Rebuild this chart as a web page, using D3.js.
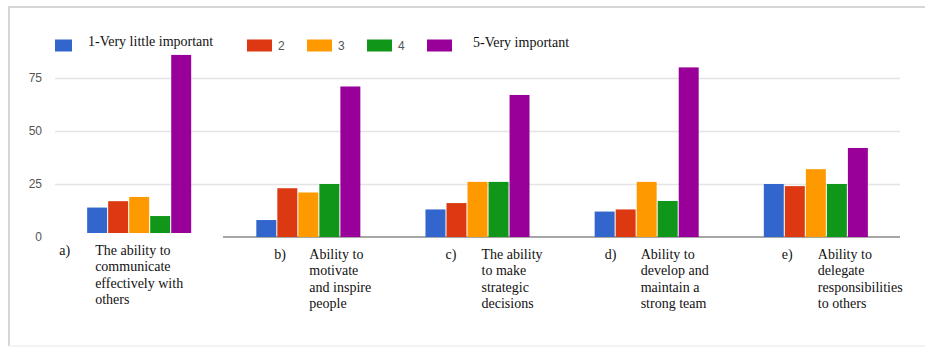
<!DOCTYPE html>
<html>
<head>
<meta charset="utf-8">
<script src="https://cdn.jsdelivr.net/npm/d3@7"></script>
<style>
  html, body { margin: 0; padding: 0; background: #fff; }
  svg { display: block; }
</style>
</head>
<body>
<div id="chart"></div>
<script>
// data (percent of answers)
const letters = ["a)", "b)", "c)", "d)", "e)"];
const labelLines = [
  ["The ability to", "communicate", "effectively with", "others"],
  ["Ability to", "motivate", "and inspire", "people"],
  ["The ability", "to make", "strategic", "decisions"],
  ["Ability to", "develop and", "maintain a", "strong team"],
  ["Ability to", "delegate", "responsibilities", "to others"]
];
const seriesNames = ["1-Very little important", "2", "3", "4", "5-Very important"];
const s1 = [12, 8, 13, 12, 25];
const s2 = [15, 23, 16, 13, 24];
const s3 = [17, 21, 26, 26, 32];
const s4 = [8, 25, 26, 17, 25];
const s5 = [84, 71, 67, 80, 42];
const yTicks = [0, 25, 50, 75];

const series = [s1, s2, s3, s4, s5];
const colors = ["#3366cc", "#dc3912", "#ff9900", "#109618", "#990099"];

const W = 925, H = 349;
const svg = d3.select("#chart").append("svg")
  .attr("width", W).attr("height", H);

// outer frame (top + left, faint bottom)
svg.append("path")
  .attr("d", "M9,346 L9,7 L925,7")
  .attr("fill", "none").attr("stroke", "#d6d6d6").attr("stroke-width", 2);
svg.append("line")
  .attr("x1", 9).attr("x2", 925).attr("y1", 346).attr("y2", 346)
  .attr("stroke", "#f0f0f0").attr("stroke-width", 1.5);

const x0 = d3.scaleBand()
  .domain(d3.range(letters.length))
  .range([55, 900])
  .paddingInner(0.385)
  .paddingOuter(0.19);

const x1 = d3.scaleBand()
  .domain(d3.range(series.length))
  .range([0, x0.bandwidth()])
  .paddingInner(0.05);

const y = d3.scaleLinear().domain([0, 75]).range([237, 78]);

// gridlines + y labels
const yAxis = svg.append("g")
  .attr("transform", "translate(55,0)")
  .call(d3.axisLeft(y).tickValues(yTicks).tickSize(-845).tickPadding(13));
yAxis.select(".domain").remove();
yAxis.selectAll(".tick line")
  .attr("stroke", (d) => d === 0 ? "none" : "#e4e4e4")
  .attr("stroke-width", 1.5);
yAxis.selectAll(".tick text")
  .attr("fill", "#555")
  .style("font-family", "Arial, 'Liberation Sans', sans-serif")
  .style("font-size", "12px");

// baseline (the first block of the source image sits slightly higher and has none)
svg.append("line")
  .attr("x1", 223).attr("x2", 900)
  .attr("y1", y(0)).attr("y2", y(0))
  .attr("stroke", "#8a8a8a").attr("stroke-width", 1.6);

// per-group layout nudges (the source is a pasted image)
const groupShift = [-4, 0, 0, 0, 0];
const letterDx = [-80, -34, -32, -42, -34];
const textDx = [-44, 1, 4, -6, 2];

const groups = svg.selectAll("g.grp")
  .data(letters)
  .enter().append("g")
  .attr("class", "grp")
  .attr("transform", (d, i) => "translate(" + x0(i) + "," + groupShift[i] + ")");

groups.selectAll("rect")
  .data((d, i) => series.map((s, k) => ({ k: k, v: s[i] })))
  .enter().append("rect")
  .attr("x", (d) => x1(d.k))
  .attr("y", (d) => y(d.v))
  .attr("width", x1.bandwidth())
  .attr("height", (d) => y(0) - y(d.v))
  .attr("fill", (d) => colors[d.k]);

const serif = "'Liberation Serif', 'Times New Roman', serif";
const cx = x0.bandwidth() / 2;

groups.append("text")
  .attr("x", (d, i) => cx + letterDx[i])
  .attr("y", 259)
  .style("font-family", serif).style("font-size", "14px")
  .attr("fill", "#111")
  .text((d) => d);

groups.each(function (d, i) {
  const t = d3.select(this).append("text")
    .attr("x", cx + textDx[i])
    .attr("y", 259)
    .style("font-family", serif).style("font-size", "14px")
    .attr("fill", "#111");
  labelLines[i].forEach((line, j) => {
    t.append("tspan")
      .attr("x", cx + textDx[i])
      .attr("dy", j === 0 ? 0 : 16.3)
      .text(line);
  });
});

// legend
const legendPos = [
  { rx: 55, rw: 17, tx: 88, serif: true },
  { rx: 247, rw: 25, tx: 278, serif: false },
  { rx: 307, rw: 25, tx: 338, serif: false },
  { rx: 367, rw: 25, tx: 398, serif: false },
  { rx: 427, rw: 25, tx: 473, serif: true }
];
const legend = svg.append("g");
seriesNames.forEach((name, k) => {
  const p = legendPos[k];
  legend.append("rect")
    .attr("x", p.rx).attr("y", 39.5)
    .attr("width", p.rw).attr("height", 12)
    .attr("fill", colors[k]);
  legend.append("text")
    .attr("x", p.tx)
    .attr("y", p.serif ? (k === 0 ? 45.5 : 47) : 50)
    .style("font-family", p.serif ? serif : "Arial, 'Liberation Sans', sans-serif")
    .style("font-size", p.serif ? "14px" : "12px")
    .attr("fill", p.serif ? "#111" : "#555")
    .text(name);
});
</script>
</body>
</html>
